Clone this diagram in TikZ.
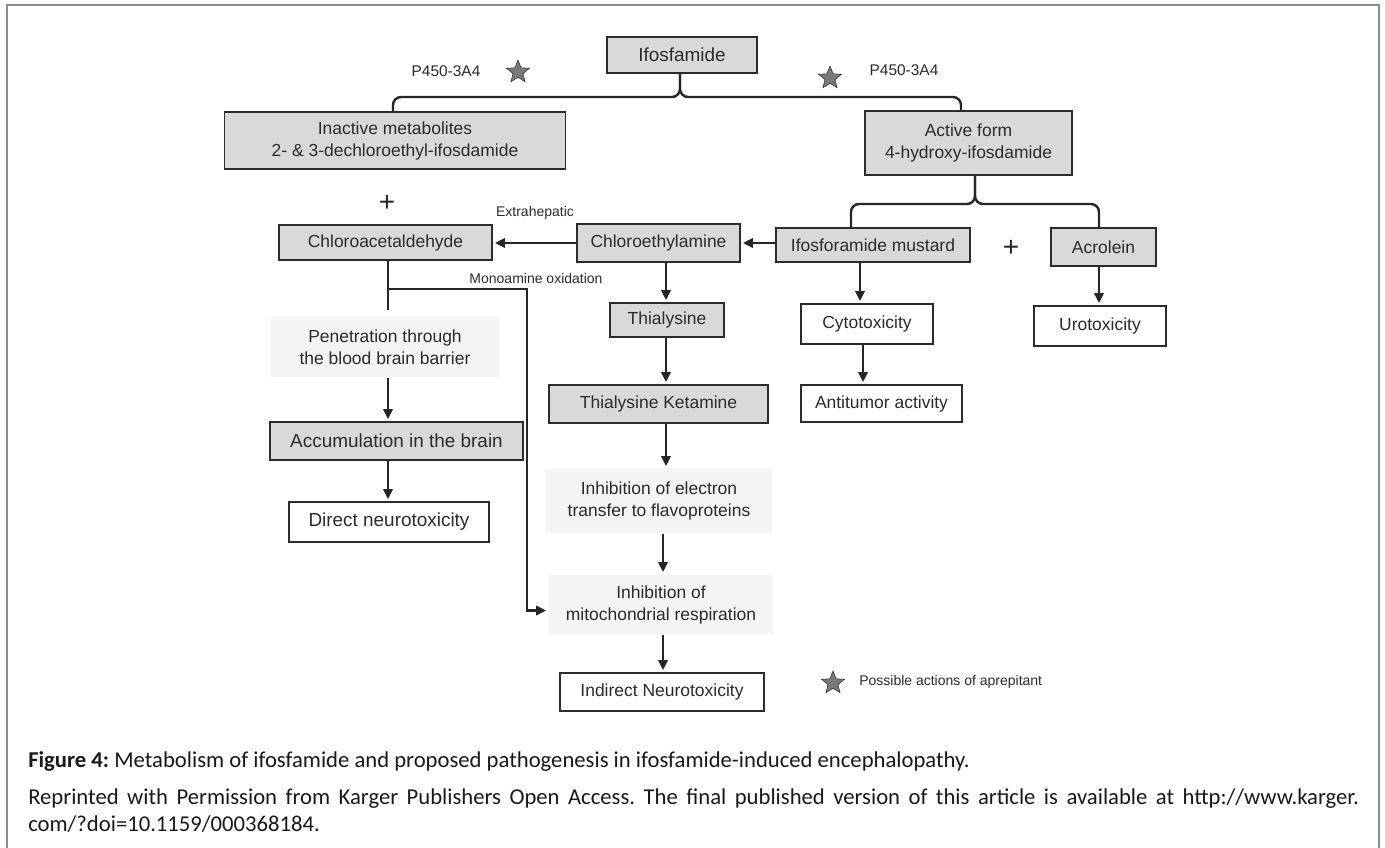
\documentclass[tikz,border=0pt]{standalone}
\usepackage{fontspec}
\setmainfont{Liberation Sans}
\newfontfamily\capfont{Carlito}
\usetikzlibrary{arrows.meta,shapes.geometric}
\definecolor{boxgray}{HTML}{D9D9D9}
\definecolor{softgray}{HTML}{F3F4F6}
\definecolor{inkgray}{HTML}{2B2B2B}
\definecolor{stargray}{HTML}{7A7A7A}
\definecolor{framegray}{HTML}{8C8C8C}
\frenchspacing
\tikzset{
  box/.style={draw=inkgray,line width=1.3pt,text=inkgray,align=center,
    inner sep=0pt,font=\fontsize{13.1}{16.5}\selectfont},
  graybox/.style={box,fill=boxgray},
  whitebox/.style={box,fill=white},
  softbox/.style={box,draw=none,fill=softgray},
  link/.style={draw=black!85,line width=1.8pt},
  flow/.style={link,-{Triangle[length=7.5pt,width=7pt]},shorten >=1.5pt},
  tag/.style={text=inkgray,inner sep=0pt,font=\fontsize{10.5}{12}\selectfont},
  aprep/.style={star,star points=5,star point ratio=2.3,fill=stargray,
    draw=inkgray,line width=0.4pt,minimum size=18pt,inner sep=0pt},
  plus/.style={text=black!85,inner sep=0pt,font=\fontsize{21}{21}\selectfont},
  captxt/.style={text=black!90,inner sep=0pt,anchor=base west,
    font=\capfont\fontsize{17}{20.25}\selectfont}
}
\begin{document}
\begin{tikzpicture}[x=0.75pt,y=-0.75pt]
\clip (0,0) rectangle (1385,847);
\draw[framegray,line width=1.1pt] (7,5) rectangle (1379,880);
% metabolism of the parent drug
\node[graybox,minimum width=112.5pt,minimum height=27pt,
  font=\fontsize{14.2}{16.5}\selectfont] (ifos) at (682,55) {Ifosfamide};
\node[graybox,minimum width=255.75pt,minimum height=42.75pt] (inact) at (395,140.5)
  {Inactive metabolites\\2- \& 3-dechloroethyl-ifosdamide};
\node[graybox,minimum width=155.25pt,minimum height=48pt] (active) at (968.5,143)
  {Active form\\4-hydroxy-ifosdamide};
\node[tag,font=\fontsize{11.6}{13}\selectfont] (p450l) at (446,71) {P450-3A4};
\node[tag,font=\fontsize{11.6}{13}\selectfont] (p450r) at (904,70) {P450-3A4};
\node[aprep] (starl) at (518,72) {};
\node[aprep] (starr) at (830,78) {};
\draw[link,rounded corners=6pt] (ifos.south -| 680,0) -- (680,97) -| (inact.north -| 393,0);
\draw[link,rounded corners=6pt] (ifos.south -| 680,0) -- (680,97) -| (active.north -| 961,0);
% second row
\node[plus] (plusl) at (387,203) {+};
\node[graybox,minimum width=159.75pt,minimum height=26.25pt] (chloroacet) at (385.5,242.5)
  {Chloroacetaldehyde};
\node[graybox,minimum width=122.25pt,minimum height=28.5pt] (chloroeth) at (658.5,243)
  {Chloroethylamine};
\node[graybox,minimum width=145.5pt,minimum height=25.5pt] (mustard) at (873,245)
  {Ifosforamide mustard};
\node[plus] (plusr) at (1011,248) {+};
\node[graybox,minimum width=78.75pt,minimum height=28.5pt] (acrolein) at (1103.5,247)
  {Acrolein};
\node[tag] (extra) at (535,213) {Extrahepatic};
\node[tag] (maolabel) at (536,278) {Monoamine oxidation};
\draw[link,rounded corners=6pt] (active.south -| 975,0) -- (975,204) -| (mustard.north -| 851,0);
\draw[link,rounded corners=6pt] (active.south -| 975,0) -- (975,204) -| (acrolein.north -| 1099,0);
\draw[flow] (mustard.west |- 0,243) -- (chloroeth.east |- 0,243);
\draw[flow] (chloroeth.west |- 0,243) -- (chloroacet.east |- 0,243);
% left column
\node[softbox,minimum width=171pt,minimum height=45pt] (penet) at (385,347)
  {Penetration through\\the blood brain barrier};
\node[graybox,minimum width=189.75pt,minimum height=28.5pt,
  font=\fontsize{14.2}{16.5}\selectfont] (accum) at (396.5,441) {Accumulation in the brain};
\node[whitebox,minimum width=150pt,minimum height=30pt,
  font=\fontsize{14.2}{16.5}\selectfont] (direct) at (389,522) {Direct neurotoxicity};
% middle column
\node[graybox,minimum width=85.5pt,minimum height=25.5pt] (thial) at (667,320) {Thialysine};
\node[graybox,minimum width=164.25pt,minimum height=28.5pt] (ketamine) at (658.5,404)
  {Thialysine Ketamine};
\node[softbox,minimum width=169.5pt,minimum height=48pt] (electron) at (659,501)
  {Inhibition of electron\\transfer to flavoproteins};
\node[softbox,minimum width=168pt,minimum height=44.25pt] (mito) at (661,604.5)
  {Inhibition of\\mitochondrial respiration};
\node[whitebox,minimum width=153pt,minimum height=28.5pt] (indirect) at (662,692)
  {Indirect Neurotoxicity};
% right columns
\node[whitebox,minimum width=99pt,minimum height=30pt] (cyto) at (867,324) {Cytotoxicity};
\node[whitebox,minimum width=120.75pt,minimum height=27.75pt] (antitumor) at (881.5,403.5)
  {Antitumor activity};
\node[whitebox,minimum width=99pt,minimum height=30pt] (uro) at (1100,326) {Urotoxicity};
% vertical arrows
\foreach \a/\b/\x in {chloroeth/thial/666, thial/ketamine/666, ketamine/electron/666,
  electron/mito/663, mito/indirect/663, penet/accum/388, accum/direct/388,
  mustard/cyto/860, cyto/antitumor/863, acrolein/uro/1099}{
  \draw[flow] (\a.south -| \x,0) -- (\b.north -| \x,0);
}
% monoamine oxidation branch
\coordinate (mao) at (388,289);
\coordinate (maoend) at (388,310);
\coordinate (maoturn) at (527,289);
\draw[link] (chloroacet.south -| mao) -- (maoend);
\draw[flow] (mao) -- (maoturn) |- ([yshift=-4.5pt]mito.west);
% legend
\node[aprep] (starkey) at (833,683) {};
\node[tag,anchor=west] (keytext) at (859,682) {Possible actions of aprepitant};
% caption
\node[captxt] (cap) at (28,767)
  {\textbf{Figure 4:} Metabolism of ifosfamide and proposed pathogenesis in ifosfamide-induced encephalopathy.};
\node[captxt,text width=998pt,align=justify] (reprint) at (28,804)
  {Reprinted with Permission from Karger Publishers Open Access. The final published version of this article is available at http://www.karger.\linebreak com/?doi=10.1159/000368184.};
\end{tikzpicture}
\end{document}
